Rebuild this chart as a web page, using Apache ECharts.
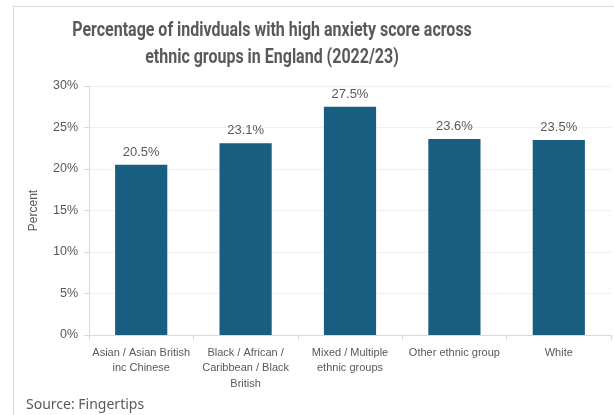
<!DOCTYPE html>
<html>
<head>
<meta charset="utf-8">
<script src="https://cdn.jsdelivr.net/npm/echarts@6/dist/echarts.min.js"></script>
<style>
  html, body { margin: 0; padding: 0; background: #ffffff; }
  #chart { width: 614px; height: 415px; }
</style>
</head>
<body>
<div id="chart"></div>
<script>
// Ethnic groups (line breaks follow the axis label wrapping)
const categories = [
  'Asian / Asian British\ninc Chinese',
  'Black / African /\nCaribbean / Black\nBritish',
  'Mixed / Multiple\nethnic groups',
  'Other ethnic group',
  'White'
];
// Share of individuals with a high anxiety score, %
const highAnxietyPct = [20.5, 23.1, 27.5, 23.6, 23.5];
// Value axis ticks, %
const yTicks = [0, 5, 10, 15, 20, 25, 30];

const TEXT = '#595959';
const BAR = '#185e80';
const LINE = '#d9d9d9';

const chart = echarts.init(document.getElementById('chart'), null, { renderer: 'canvas' });

chart.setOption({
  backgroundColor: '#ffffff',
  animation: false,
  graphic: [
    {
      type: 'rect',
      shape: { x: 13.5, y: 6.5, width: 700, height: 500 },
      style: { fill: 'none', stroke: LINE, lineWidth: 1 },
      silent: true,
      z: 0
    },
    {
      // Two-line title, condensed horizontally
      type: 'text',
      x: 272,
      y: 18,
      scaleX: 0.82,
      style: {
        text: 'Percentage of indivduals with high anxiety score across\nethnic groups in England (2022/23)',
        fill: TEXT,
        font: 'bold 19.5px Roboto, sans-serif',
        textAlign: 'center',
        textVerticalAlign: 'top',
        lineHeight: 27
      }
    },
    {
      type: 'text',
      left: 26,
      top: 398,
      style: {
        text: 'Source: Fingertips',
        fill: TEXT,
        font: '14px "Noto Sans", sans-serif'
      }
    }
  ],
  grid: { left: 89, right: 3, top: 86, bottom: 80, containLabel: false },
  xAxis: {
    type: 'category',
    data: categories,
    axisLine: { show: true, lineStyle: { color: LINE, width: 1 } },
    axisTick: { show: true, alignWithLabel: false, length: 5, lineStyle: { color: LINE } },
    axisLabel: {
      color: TEXT,
      fontSize: 11,
      fontFamily: '"Liberation Sans", sans-serif',
      lineHeight: 15.5,
      margin: 10,
      interval: 0
    }
  },
  yAxis: {
    type: 'value',
    min: 0,
    max: 30,
    interval: 5,
    name: 'Percent',
    nameLocation: 'middle',
    nameGap: 49,
    nameTextStyle: { color: TEXT, fontSize: 12, fontFamily: '"Liberation Sans", sans-serif' },
    axisLine: { show: true, lineStyle: { color: LINE, width: 1 } },
    axisTick: { show: true, length: 5, lineStyle: { color: LINE } },
    splitLine: { show: true, lineStyle: { color: '#f0f0f0', width: 1 } },
    axisLabel: {
      color: TEXT,
      fontSize: 12.5,
      fontFamily: '"Liberation Sans", sans-serif',
      margin: 11,
      formatter: v => (yTicks.includes(v) ? v + '%' : '')
    }
  },
  series: [
    {
      type: 'bar',
      data: highAnxietyPct,
      barWidth: '50%',
      itemStyle: { color: BAR },
      label: {
        show: true,
        position: 'top',
        distance: 6,
        color: TEXT,
        fontSize: 13,
        fontFamily: '"Liberation Sans", sans-serif',
        formatter: p => p.value.toFixed(1) + '%'
      }
    }
  ]
});
</script>
</body>
</html>
